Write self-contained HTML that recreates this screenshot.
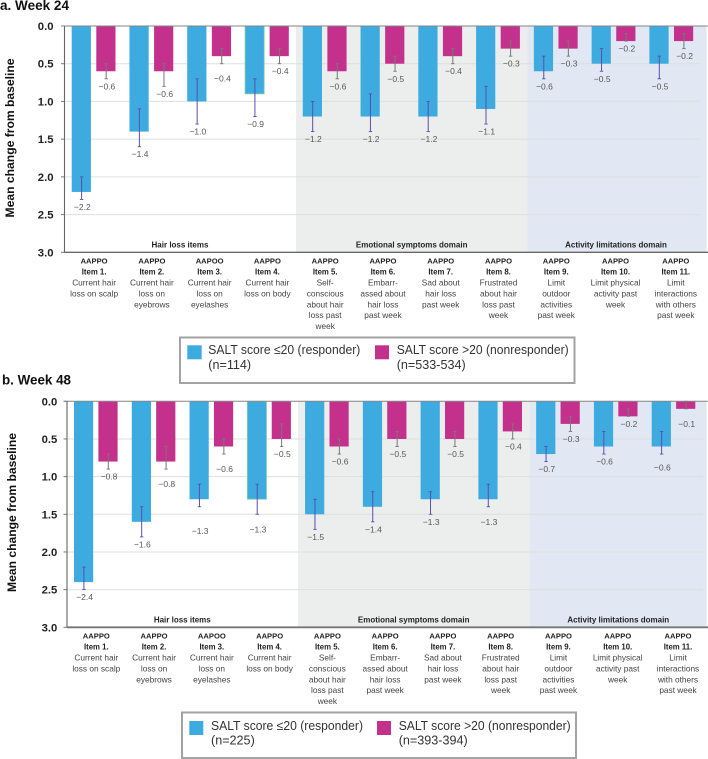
<!DOCTYPE html>
<html lang="en">
<head>
<meta charset="utf-8">
<title>Mean change from baseline in AAPPO items</title>
<style>
html,body{margin:0;padding:0;background:#fff;width:708px;height:759px;overflow:hidden}
svg{display:block}
text{font-family:"Liberation Sans",sans-serif}
</style>
</head>
<body>
<svg id="figure" width="708" height="759" viewBox="0 0 708 759" xmlns="http://www.w3.org/2000/svg">
  <text x="0" y="10" font-size="14" font-weight="bold" fill="#111" textLength="69" lengthAdjust="spacingAndGlyphs">a. Week 24</text>
  <text x="2" y="384.7" font-size="14" font-weight="bold" fill="#111" textLength="69" lengthAdjust="spacingAndGlyphs">b. Week 48</text>

  <g>
    <rect x="180" y="337.5" width="394.5" height="45.5" fill="#fff" stroke="#a3a3a3" stroke-width="2"/>
    <rect x="187.3" y="345.3" width="14.4" height="14" fill="#3DAAE0"/>
    <text font-size="12.6" fill="#333"><tspan x="208.3" y="354" textLength="152" lengthAdjust="spacingAndGlyphs">SALT score ≤20 (responder)</tspan><tspan x="208.3" y="369">(n=114)</tspan></text>
    <rect x="375" y="345.3" width="14" height="14" fill="#C4318C"/>
    <text font-size="12.6" fill="#333"><tspan x="396.7" y="354" textLength="172" lengthAdjust="spacingAndGlyphs">SALT score &gt;20 (nonresponder)</tspan><tspan x="396.7" y="369">(n=533-534)</tspan></text>
  </g>

  <g>
    <rect x="182" y="712.5" width="394" height="45.5" fill="#fff" stroke="#a3a3a3" stroke-width="2"/>
    <rect x="189.3" y="721" width="14" height="14" fill="#3DAAE0"/>
    <text font-size="12.6" fill="#333"><tspan x="211" y="730" textLength="152" lengthAdjust="spacingAndGlyphs">SALT score ≤20 (responder)</tspan><tspan x="211" y="744.7">(n=225)</tspan></text>
    <rect x="377" y="721" width="14" height="14" fill="#C4318C"/>
    <text font-size="12.6" fill="#333"><tspan x="398.7" y="730" textLength="172" lengthAdjust="spacingAndGlyphs">SALT score &gt;20 (nonresponder)</tspan><tspan x="398.7" y="744.7">(n=393-394)</tspan></text>
  </g>
</svg>
<script>
// ---- Shared categories and axis ticks ----
const categoryCodes = ["AAPPO","AAPPO","AAPOO","AAPPO","AAPPO","AAPPO","AAPPO","AAPPO","AAPPO","AAPPO","AAPPO"];
const categoryItems = ["Item 1.","Item 2.","Item 3.","Item 4.","Item 5.","Item 6.","Item 7.","Item 8.","Item 9.","Item 10.","Item 11."];
const categoryText = [
  ["Current hair","loss on scalp"],
  ["Current hair","loss on","eyebrows"],
  ["Current hair","loss on","eyelashes"],
  ["Current hair","loss on body"],
  ["Self-","conscious","about hair","loss past","week"],
  ["Embarr-","assed about","hair loss","past week"],
  ["Sad about","hair loss","past week"],
  ["Frustrated","about hair","loss past","week"],
  ["Limit","outdoor","activities","past week"],
  ["Limit physical","activity past","week"],
  ["Limit","interactions","with others","past week"]
];
const yTicks = [0, 0.5, 1, 1.5, 2, 2.5, 3];
const domainNames = ["Hair loss items","Emotional symptoms domain","Activity limitations domain"];

// ---- Week 24 values (magnitude of mean change) ----
const week24Responder = [2.2,1.4,1.0,0.9,1.2,1.2,1.2,1.1,0.6,0.5,0.5];
const week24ResponderErrLow = [2.0,1.1,0.7,0.7,1.0,0.9,1.0,0.8,0.4,0.3,0.4];
const week24ResponderErrHigh = [2.3,1.6,1.3,1.2,1.4,1.4,1.4,1.3,0.7,0.6,0.7];
const week24Nonresponder = [0.6,0.6,0.4,0.4,0.6,0.5,0.4,0.3,0.3,0.2,0.2];
const week24NonresponderErrLow = [0.5,0.5,0.3,0.3,0.5,0.4,0.3,0.2,0.2,0.1,0.1];
const week24NonresponderErrHigh = [0.7,0.8,0.5,0.5,0.7,0.6,0.5,0.4,0.4,0.2,0.3];

// ---- Week 48 values (magnitude of mean change) ----
const week48Responder = [2.4,1.6,1.3,1.3,1.5,1.4,1.3,1.3,0.7,0.6,0.6];
const week48ResponderErrLow = [2.2,1.4,1.1,1.1,1.3,1.2,1.2,1.1,0.6,0.4,0.4];
const week48ResponderErrHigh = [2.5,1.8,1.4,1.5,1.7,1.6,1.5,1.4,0.8,0.7,0.7];
const week48Nonresponder = [0.8,0.8,0.6,0.5,0.6,0.5,0.5,0.4,0.3,0.2,0.1];
const week48NonresponderErrLow = [0.7,0.6,0.5,0.3,0.5,0.4,0.4,0.3,0.2,0.1,0.0];
const week48NonresponderErrHigh = [0.9,0.9,0.7,0.6,0.7,0.6,0.6,0.5,0.4,0.2,0.1];

const SVG_NS = "http://www.w3.org/2000/svg";
const figure = document.getElementById("figure");
const BLUE = "#3DAAE0", MAGENTA = "#C4318C";
const categoryTextShift = {9: 1.5, 10: 4};

function make(parent, tag, attrs, content) {
  const el = document.createElementNS(SVG_NS, tag);
  for (const k in attrs) el.setAttribute(k, attrs[k]);
  if (content !== undefined) el.textContent = content;
  parent.appendChild(el);
  return el;
}

function drawPanel(p) {
  const yPos = v => p.top + (v / 3) * (p.bottom - p.top);
  const barLeft = (i, series) => p.firstBar + i * p.step + (series ? p.seriesGap : 0);
  const groupCentre = i => p.firstBar + i * p.step + (p.seriesGap + p.barWidth) / 2;

  const panel = make(figure, "g", {});
  
  

  // domain bands
  const band1 = make(panel, "rect", {x: p.band1, y: p.top, width: p.band2 - p.band1, height: p.bottom - p.top, fill: "#ECEDED"});
  
  
  const band2 = make(panel, "rect", {x: p.band2, y: p.top, width: 708 - p.band2 - 1.5, height: p.bottom - p.top, fill: "#E1E7F3"});
  
  

  // gridlines, ticks, tick labels
  yTicks.forEach(t => {
    if (t > 0 && t < 3) {
      const grid = make(panel, "line", {x1: p.axisX, x2: p.gridEnd, y1: yPos(t), y2: yPos(t), stroke: "#DEDFE0", "stroke-width": 1});
      
      
    }
    const tick = make(panel, "line", {x1: p.axisX - 3.5, x2: p.axisX, y1: yPos(t), y2: yPos(t), stroke: "#777", "stroke-width": 1});
    
    
    const label = make(panel, "text", {x: p.tickLabelX, y: yPos(t) + 4, "text-anchor": "end", "font-size": 11.3, "font-weight": "bold", fill: "#222"}, t.toFixed(1));
    
    
  });

  // bars
  [[p.responder, BLUE, "responder"], [p.nonresponder, MAGENTA, "nonresponder"]].forEach((s, si) => {
    s[0].forEach((v, i) => {
      const attrs = {x: barLeft(i, si), y: p.top, width: p.barWidth, height: yPos(v) - p.top, fill: s[1]};
      if (si === 0 && i === 3) { attrs.stroke = "#8FD3A8"; attrs["stroke-width"] = 0.8; }
      const bar = make(panel, "rect", attrs);
      
      
    });
  });

  // axes
  const topAxis = make(panel, "line", {x1: p.axisX - 3.5, x2: 708, y1: p.top, y2: p.top, stroke: "#858585", "stroke-width": 1});
  
  
  const leftAxis = make(panel, "line", {x1: p.axisX, x2: p.axisX, y1: p.top, y2: p.bottom, stroke: "#666", "stroke-width": 1.1});
  
  
  const baseAxis = make(panel, "line", {x1: p.axisX, x2: 708, y1: p.bottom, y2: p.bottom, stroke: p.baseColor, "stroke-width": p.baseWidth});
  
  

  // y-axis title
  const title = make(panel, "text", {transform: "translate(" + p.titleX + "," + ((p.top + p.bottom) / 2 + p.titleShift) + ") rotate(-90)", "text-anchor": "middle", "font-size": 12.2, "font-weight": "bold", fill: "#111", textLength: 159, lengthAdjust: "spacingAndGlyphs"}, "Mean change from baseline");
  
  

  // error bars and value labels
  [[p.responder, p.responderLow, p.responderHigh, "#5A50AC", "r"], [p.nonresponder, p.nonresponderLow, p.nonresponderHigh, "#777777", "n"]].forEach((s, si) => {
    s[0].forEach((v, i) => {
      const cx = barLeft(i, si) + p.barWidth / 2;
      const yLow = yPos(s[1][i]), yHigh = yPos(s[2][i]);
      const stem = make(panel, "line", {x1: cx + 0.3, x2: cx + 0.3, y1: yLow, y2: yHigh, stroke: s[3], "stroke-width": 1});
      
      
      [yLow, yHigh].forEach(yc => {
        const cap = make(panel, "line", {x1: cx - 1.4, x2: cx + 2, y1: yc, y2: yc, stroke: s[3], "stroke-width": 0.9});
        
        
      });
      const extra = p.labelShift[s[4] + i] || 0;
      const label = make(panel, "text", {x: cx + 1, y: yHigh + 7.5 + extra + 3, "text-anchor": "middle", "font-size": 8.5, fill: "#585858"}, "\u2212" + v.toFixed(1));
      
      
    });
  });

  // domain labels
  domainNames.forEach((name, i) => {
    const d = make(panel, "text", {x: p.domainX[i], y: p.bottom - 5, "text-anchor": "middle", "font-size": 8, "font-weight": "bold", fill: "#222"}, name);
    
    
  });

  // category labels
  categoryText.forEach((lines, i) => {
    const cx = groupCentre(i) + 0.5 + (categoryTextShift[i] || 0);
    const lineHeight = 10.9;
    let y = p.bottom + 11.4;
    const code = make(panel, "text", {x: cx, y: y, "text-anchor": "middle", "font-size": 7.6, "font-weight": "bold", fill: "#222"}, categoryCodes[i]);
    
    
    y += lineHeight;
    const item = make(panel, "text", {x: cx, y: y, "text-anchor": "middle", "font-size": 7.8, "font-weight": "bold", fill: "#222"}, categoryItems[i]);
    
    
    lines.forEach(line => {
      y += lineHeight;
      const t = make(panel, "text", {x: cx, y: y, "text-anchor": "middle", "font-size": 8.3, fill: "#444"}, line);
      
      
    });
  });
}

drawPanel({
  key: "week-24", top: 26, bottom: 252.3, axisX: 64.5, tickLabelX: 53.5, gridEnd: 700,
  firstBar: 71.7, step: 57.77, barWidth: 19.2, seriesGap: 24.6,
  band1: 296, band2: 527.3, domainX: [180, 411.7, 616],
  titleX: 14, titleShift: -1.2, baseColor: "#333", baseWidth: 1,
  responder: week24Responder, responderLow: week24ResponderErrLow, responderHigh: week24ResponderErrHigh,
  nonresponder: week24Nonresponder, nonresponderLow: week24NonresponderErrLow, nonresponderHigh: week24NonresponderErrHigh,
  labelShift: {n2: 7.5}
});

drawPanel({
  key: "week-48", top: 401.3, bottom: 627.3, axisX: 67, tickLabelX: 57.3, gridEnd: 703,
  firstBar: 74, step: 57.77, barWidth: 19.2, seriesGap: 24.4,
  band1: 298, band2: 530, domainX: [182.3, 413.7, 618.3],
  titleX: 16, titleShift: -1.8, baseColor: "#777", baseWidth: 1.8,
  responder: week48Responder, responderLow: week48ResponderErrLow, responderHigh: week48ResponderErrHigh,
  nonresponder: week48Nonresponder, nonresponderLow: week48NonresponderErrLow, nonresponderHigh: week48NonresponderErrHigh,
  labelShift: {r2: 16.5, r3: 7.5, n1: 7.5, n2: 7.5, r7: 7.5, r10: 6, n10: 7.5}
});
</script>
</body>
</html>
